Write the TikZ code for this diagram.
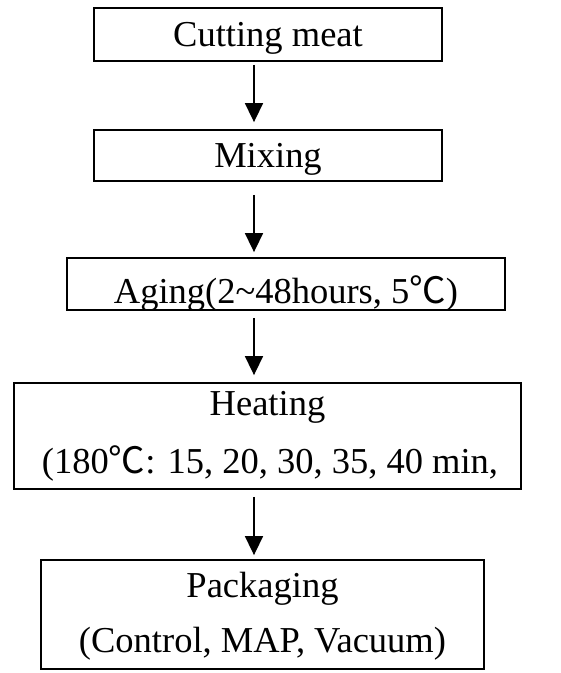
\documentclass[tikz,border=0pt]{standalone}
\usepackage{fontspec}
\setmainfont{Liberation Serif}
\newfontfamily\cjk{Noto Sans CJK KR}
\newcommand{\degC}{{\cjk ℃}}
\usetikzlibrary{arrows.meta,calc}
\tikzset{
  box/.style={draw, line width=1.8pt, inner sep=0pt},
  lbl/.style={anchor=base, inner sep=0pt, font=\fontsize{36.5}{40}\selectfont},
  arr/.style={line width=1.6pt, -{Triangle[width=18pt,length=19pt]}}
}
\begin{document}
\begin{tikzpicture}[x=1pt,y=1pt]
\useasboundingbox[fill=white] (0,0) rectangle (561,-673);
\coordinate (ax) at (254,0);
% boxes
\node[box, minimum width=348pt, minimum height=53pt] (b1) at (268,-34.5) {};
\node[box, minimum width=348pt, minimum height=51pt] (b2) at (268,-155.5) {};
\node[box, minimum width=438pt, minimum height=52pt] (b3) at (286,-284) {};
\node[box, minimum width=507pt, minimum height=106pt] (b4) at (267.5,-436) {};
\node[box, minimum width=443pt, minimum height=109pt] (b5) at (262.5,-614.5) {};
% labels
\node[lbl] (t1) at (268,-46) {Cutting meat};
\node[lbl] (t2) at (268,-167) {Mixing};
\node[lbl] (t3) at (286,-303) {Aging(2\textasciitilde48hours, 5\degC)};
\node[lbl] (t4a) at (267.5,-415) {Heating};
\node[lbl] (t4b) at (270,-473) {(180\degC: 15, 20, 30, 35, 40 min,};
\node[lbl] (t5a) at (262.5,-597) {Packaging};
\node[lbl] (t5b) at (262.5,-652) {(Control, MAP, Vacuum)};
% arrows
\draw[arr] ($(b1.south -| ax)+(0,-3)$) -- ($(b2.north -| ax)+(0,7)$);
\draw[arr] ($(b2.south -| ax)+(0,-13)$) -- ($(b3.north -| ax)+(0,5)$);
\draw[arr] ($(b3.south -| ax)+(0,-7)$) -- ($(b4.north -| ax)+(0,7)$);
\draw[arr] ($(b4.south -| ax)+(0,-7)$) -- ($(b5.north -| ax)+(0,4)$);
\end{tikzpicture}
\end{document}
